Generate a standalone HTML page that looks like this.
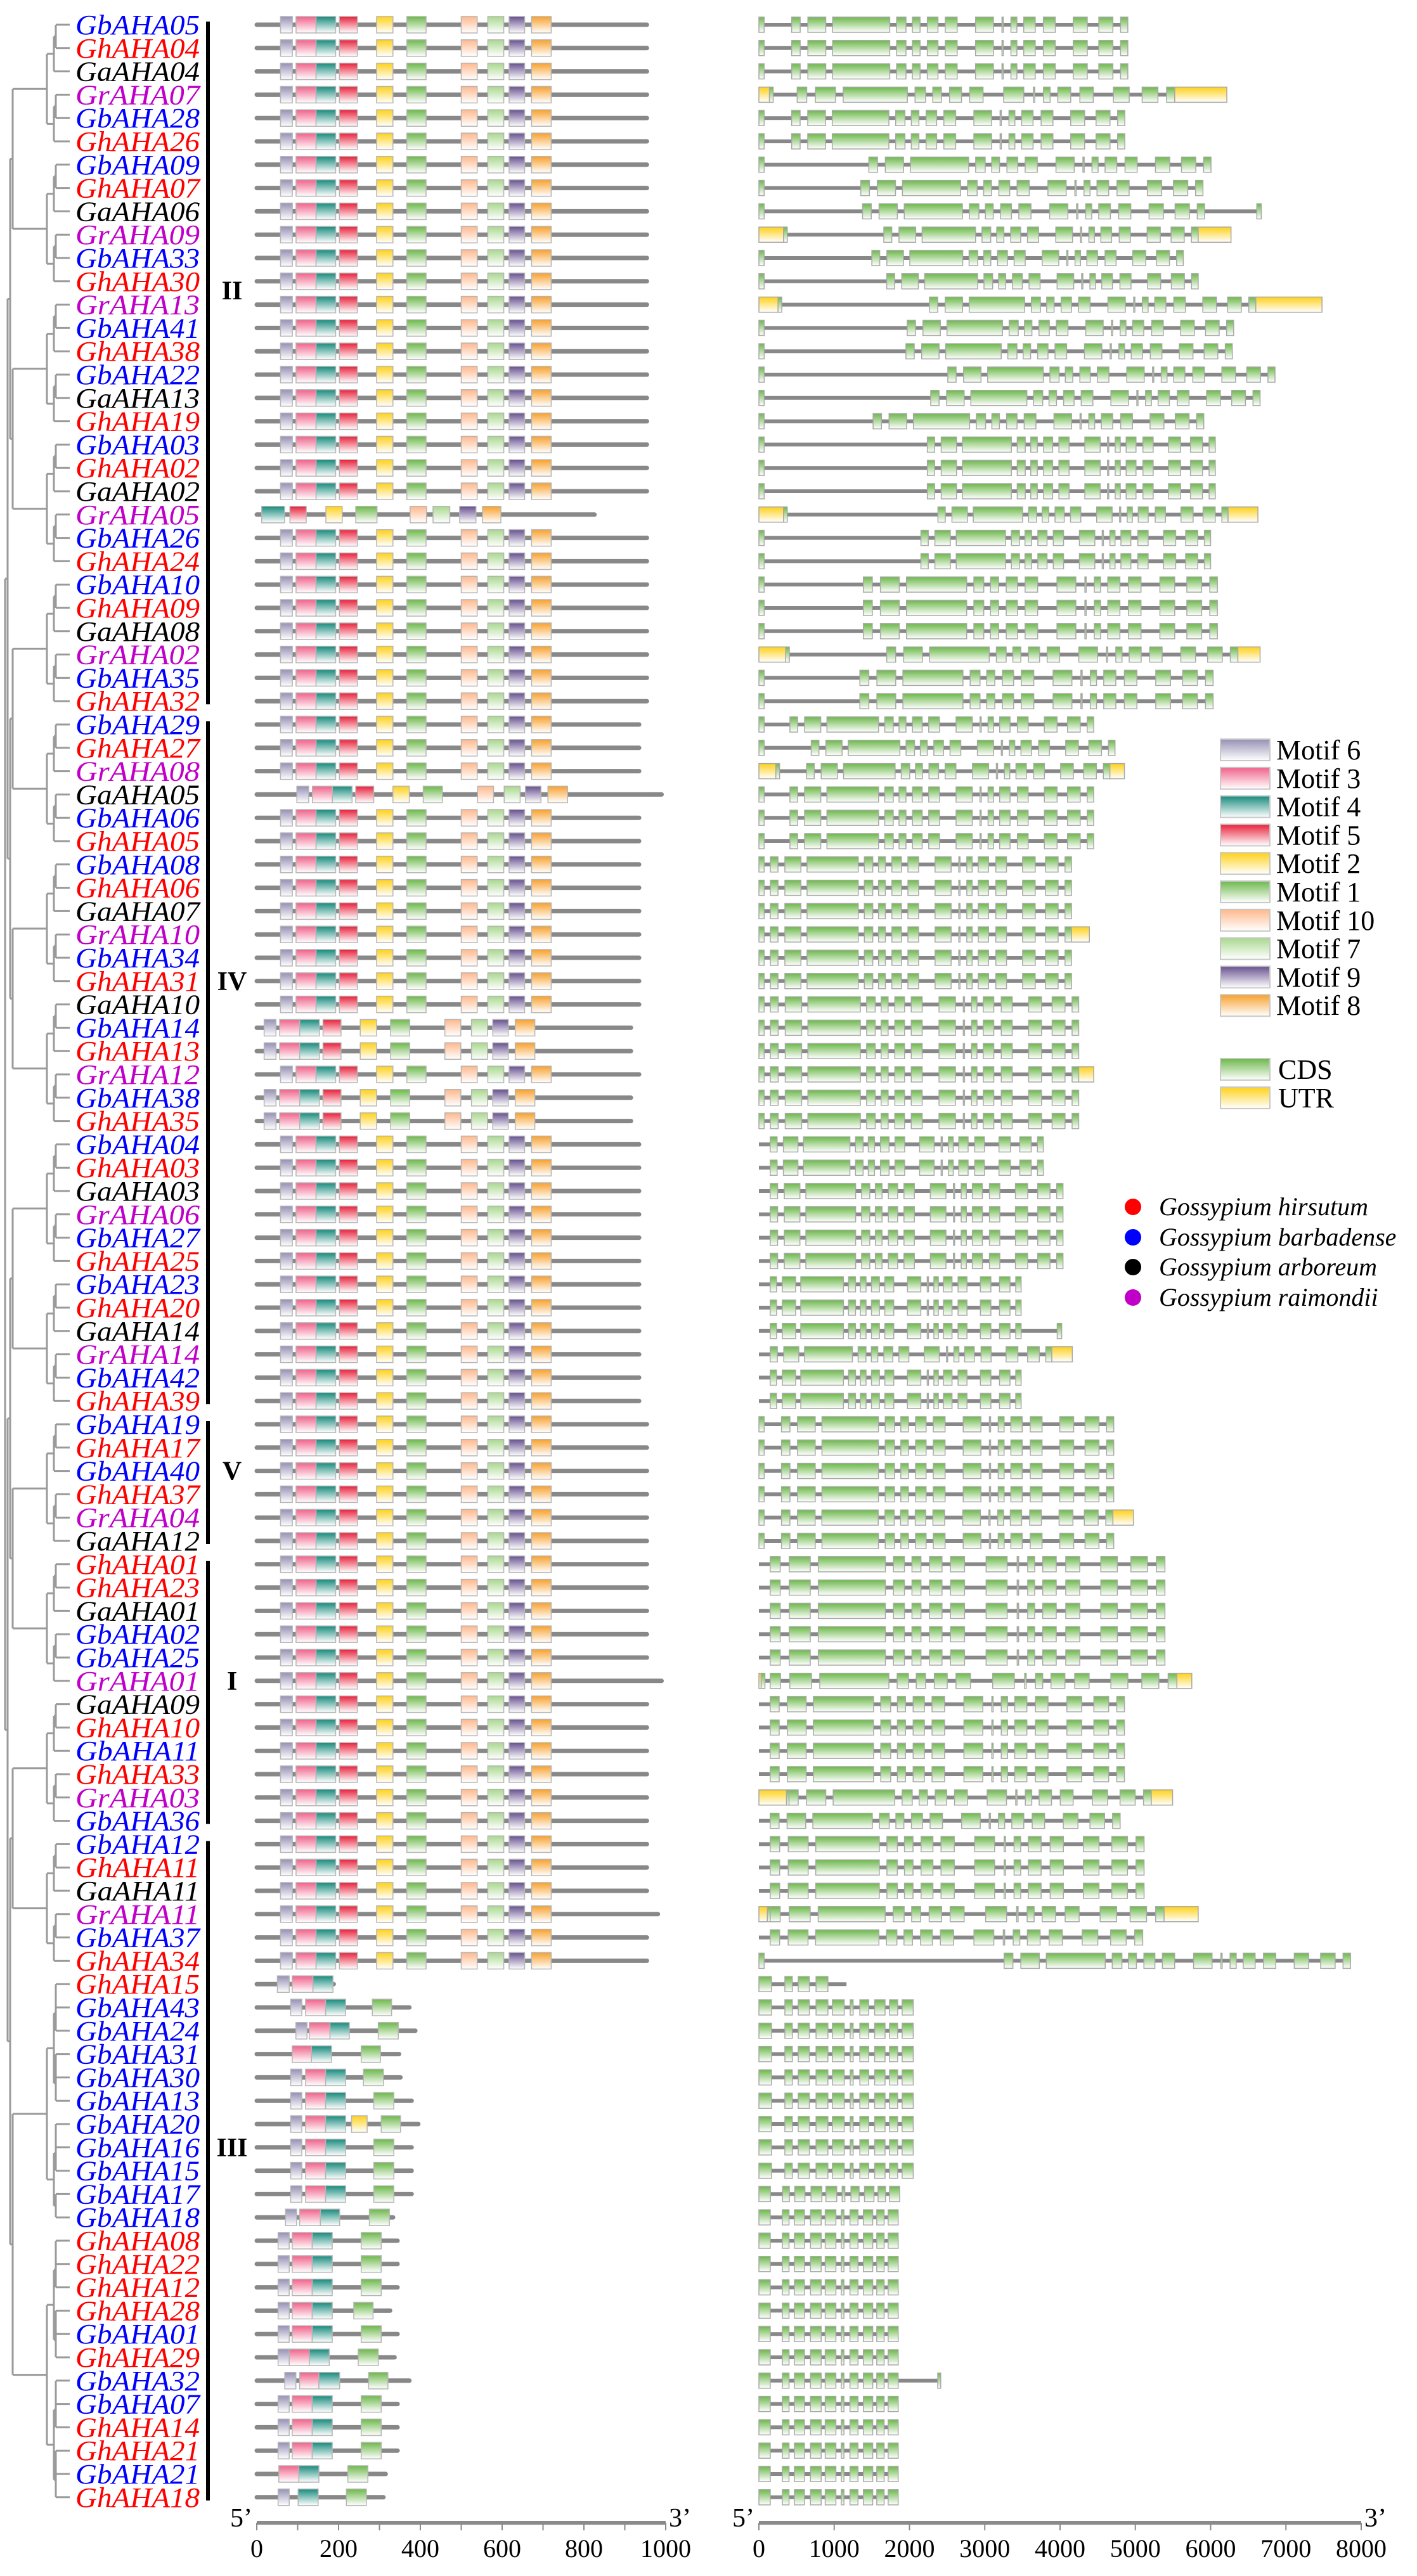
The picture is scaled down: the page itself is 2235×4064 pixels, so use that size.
<!DOCTYPE html>
<html><head><meta charset="utf-8">
<style>
html,body{margin:0;padding:0;background:#fff;}
svg{display:block;}
</style></head>
<body>
<svg id="s" xmlns="http://www.w3.org/2000/svg" width="2235" height="4064" viewBox="0 0 2235 4064">
<defs id="d"></defs>
<g id="g"></g>
</svg>
<script>
(function(){
var NS="http://www.w3.org/2000/svg";
var g=document.getElementById('g'), defs=document.getElementById('d');
function el(t,a,txt){var e=document.createElementNS(NS,t);for(var k in a)e.setAttribute(k,a[k]);if(txt!==undefined)e.textContent=txt;g.appendChild(e);return e;}
function grad(id,c){var lg=document.createElementNS(NS,'linearGradient');lg.setAttribute('id',id);lg.setAttribute('x1','0');lg.setAttribute('y1','0');lg.setAttribute('x2','0');lg.setAttribute('y2','1');
 var s1=document.createElementNS(NS,'stop');s1.setAttribute('offset','0');s1.setAttribute('stop-color',c);
 var s2=document.createElementNS(NS,'stop');s2.setAttribute('offset','1');s2.setAttribute('stop-color','#ffffff');
 lg.appendChild(s1);lg.appendChild(s2);defs.appendChild(lg);}
var MC={6:'#9590b5',3:'#f0628a',4:'#168a7c',5:'#e8203a',2:'#ffd11a',1:'#6cb84a',10:'#ffb88c',7:'#a9d88e',9:'#66508f',8:'#f8a02c'};
for(var k in MC)grad('m'+k,MC[k]);
grad('cds','#6cb84a');grad('utr','#ffd11a');

var names="GbAHA05 GhAHA04 GaAHA04 GrAHA07 GbAHA28 GhAHA26 GbAHA09 GhAHA07 GaAHA06 GrAHA09 GbAHA33 GhAHA30 GrAHA13 GbAHA41 GhAHA38 GbAHA22 GaAHA13 GhAHA19 GbAHA03 GhAHA02 GaAHA02 GrAHA05 GbAHA26 GhAHA24 GbAHA10 GhAHA09 GaAHA08 GrAHA02 GbAHA35 GhAHA32 GbAHA29 GhAHA27 GrAHA08 GaAHA05 GbAHA06 GhAHA05 GbAHA08 GhAHA06 GaAHA07 GrAHA10 GbAHA34 GhAHA31 GaAHA10 GbAHA14 GhAHA13 GrAHA12 GbAHA38 GhAHA35 GbAHA04 GhAHA03 GaAHA03 GrAHA06 GbAHA27 GhAHA25 GbAHA23 GhAHA20 GaAHA14 GrAHA14 GbAHA42 GhAHA39 GbAHA19 GhAHA17 GbAHA40 GhAHA37 GrAHA04 GaAHA12 GhAHA01 GhAHA23 GaAHA01 GbAHA02 GbAHA25 GrAHA01 GaAHA09 GhAHA10 GbAHA11 GhAHA33 GrAHA03 GbAHA36 GbAHA12 GhAHA11 GaAHA11 GrAHA11 GbAHA37 GhAHA34 GhAHA15 GbAHA43 GbAHA24 GbAHA31 GbAHA30 GbAHA13 GbAHA20 GbAHA16 GbAHA15 GbAHA17 GbAHA18 GhAHA08 GhAHA22 GhAHA12 GhAHA28 GbAHA01 GhAHA29 GbAHA32 GbAHA07 GhAHA14 GhAHA21 GbAHA21 GhAHA18".split(' ');
var COL={Gb:'#0000ff',Gh:'#ff0000',Ga:'#000000',Gr:'#c000c8'};
function Y(i){return 39+i*36.8;}

var TC='#9a9a9a';
function build(lo,hi,depth){
 if(lo==hi){return {y:Y(lo),x:110};}
 var x=30+depth*11; if(x>88)x=88;
 var mid=Math.floor((lo+hi)/2);
 var a=build(lo,mid,depth+1), b=build(mid+1,hi,depth+1);
 el('line',{x1:x,y1:a.y,x2:x,y2:b.y,stroke:TC,'stroke-width':3});
 el('line',{x1:x,y1:a.y,x2:a.x,y2:a.y,stroke:TC,'stroke-width':3});
 el('line',{x1:x,y1:b.y,x2:b.x,y2:b.y,stroke:TC,'stroke-width':3});
 return {y:(a.y+b.y)/2,x:x};
}
function buildGroups(groups,depth){
 if(groups.length==1)return build(groups[0][0],groups[0][1],depth);
 var x=8+depth*4;
 var mid=Math.floor(groups.length/2);
 var a=buildGroups(groups.slice(0,mid),depth+1), b=buildGroups(groups.slice(mid),depth+1);
 el('line',{x1:x,y1:a.y,x2:x,y2:b.y,stroke:TC,'stroke-width':3});
 el('line',{x1:x,y1:a.y,x2:a.x,y2:a.y,stroke:TC,'stroke-width':3});
 el('line',{x1:x,y1:b.y,x2:b.x,y2:b.y,stroke:TC,'stroke-width':3});
 return {y:(a.y+b.y)/2,x:x};
}
buildGroups([[0,5],[6,11],[12,17],[18,23],[24,29],[30,35],[36,41],[42,47],[48,53],[54,59],[60,65],[66,71],[72,77],[78,83],[84,94],[95,106]],0);

names.forEach(function(n,i){
 el('text',{x:119,y:Y(i)+15,'font-family':'"Liberation Serif",serif','font-style':'italic','font-size':44,fill:COL[n.substr(0,2)],textLength:196,lengthAdjust:'spacingAndGlyphs'},n);
});
[[0,29],[30,59],[60,65],[66,77],[78,106]].forEach(function(c){
 el('rect',{x:325,y:Y(c[0])-5,width:6,height:Y(c[1])-Y(c[0])+10,fill:'#000'});
});
[['II',11.4],['IV',41],['V',62],['I',71],['III',91]].forEach(function(c){
 el('text',{x:366,y:Y(c[1])+14,'text-anchor':'middle','font-family':'"Liberation Serif",serif','font-weight':'bold','font-size':42},c[0]);
});

function MX(aa){return 405+aa*0.645;}
function P2A(p){return (p*1.1703-5)/0.645;}
var STD=[[6,58,87],[3,96,145],[4,145,193],[5,202,246],[2,293,333],[1,367,414],[10,500,539],[7,565,604],[9,617,655],[8,672,720]];
function shifted(d){return STD.map(function(m){return [m[0],m[1]+d,m[2]+d];});}
function motifRow(i,end,ms){
 var y=Y(i);
 el('line',{x1:405,y1:y,x2:MX(end),y2:y,stroke:'#888','stroke-width':7,'stroke-linecap':'round'});
 ms.forEach(function(m){
  el('rect',{x:MX(m[1]),y:y-13,width:MX(m[2])-MX(m[1]),height:26,fill:'url(#m'+m[0]+')',stroke:'#b5b5b5','stroke-width':1.5});
 });
}
function pm(arr){return arr.map(function(a){return [a[0],P2A(a[1]),P2A(a[2])];});}
var mot={};
for(var i=0;i<84;i++)mot[i]=[954,STD];
mot[21]=[826,[[4,12,68],[5,81,121],[2,169,209],[1,242,294],[10,375,415],[7,431,472],[9,496,536],[8,552,597]]];
mot[33]=[990,shifted(40)];
[43,44,46,47].forEach(function(k){mot[k]=[915,shifted(-40)];});
for(var k=30;k<60;k++){ if(k!=33&&[43,44,46,47].indexOf(k)<0) mot[k]=[935,STD]; }
mot[71]=[990,STD];mot[81]=[981,STD];
mot[84]=[P2A(108),pm([[6,32,48],[3,52,80],[4,80,107]])];
var sIII=function(e,m6,m3,m4,m1,extra){var a=[];if(m6)a.push([6,m6[0],m6[1]]);a.push([3,m3[0],m3[1]]);a.push([4,m4[0],m4[1]]);if(extra)a.push(extra);a.push([1,m1[0],m1[1]]);return [P2A(e),pm(a)];};
mot[85]=sIII(210,[50,65],[70,97],[97,124],[160,186]);
mot[86]=sIII(218,[57,72],[75,103],[103,129],[168,195]);
mot[87]=sIII(196,null,[52,78],[78,105],[145,171]);
mot[88]=sIII(198,[50,65],[70,97],[97,124],[148,175]);
mot[89]=sIII(213,[50,65],[70,97],[97,124],[162,189]);
mot[90]=sIII(222,[50,65],[70,97],[97,124],[172,198],[2,132,153]);
mot[91]=sIII(213,[50,65],[70,97],[97,124],[162,189]);
mot[92]=sIII(213,[50,65],[70,97],[97,124],[162,189]);
mot[93]=sIII(213,[50,65],[70,97],[97,124],[162,189]);
mot[94]=sIII(188,[43,58],[62,90],[90,116],[156,183]);
[95,96,97,99,102,103,104].forEach(function(k){mot[k]=sIII(194,[33,48],[52,79],[79,106],[145,172]);});
mot[98]=sIII(184,[33,48],[52,79],[79,106],[135,161]);
mot[100]=sIII(190,[33,48],[48,75],[75,102],[141,168]);
mot[101]=sIII(210,[42,57],[62,88],[88,116],[155,181]);
mot[105]=[P2A(178),pm([[3,34,61],[4,61,88],[1,127,154]])];
mot[106]=[P2A(175),pm([[6,33,48],[4,60,87],[1,125,152]])];
for(var i=0;i<107;i++)motifRow(i,mot[i][0],mot[i][1]);

var AY=3980;
el('line',{x1:405,y1:AY,x2:1050,y2:AY,stroke:'#8a8a8a','stroke-width':6});
for(var t=0;t<=10;t++){var x=MX(t*100);el('line',{x1:x,y1:AY,x2:x,y2:AY+12,stroke:'#8a8a8a','stroke-width':2});}
for(var t=0;t<=5;t++){el('text',{x:MX(t*200),y:4034,'text-anchor':'middle','font-family':'"Liberation Serif",serif','font-size':40},String(t*200));}
el('text',{x:398,y:3986,'text-anchor':'end','font-family':'"Liberation Serif",serif','font-size':42},'5\u2019');
el('text',{x:1055,y:3986,'font-family':'"Liberation Serif",serif','font-size':42},'3\u2019');

function GX(bp){return 1197+bp*0.11875;}
var TPL=[[102,122],[140,182],[198,332],[348,370],[385,403],[420,445],[462,490],[533,575],[595,598],[616,630],[646,673],[692,720],[762,795],[822,855],[873,890]];
var SHORT=[[680,697],[715,725],[733,748],[757,773],[779,795],[803,807],[816,828],[836,850],[856,867],[873,888]];
function box(b1,b2,y,f){el('rect',{x:GX(b1),y:y-12,width:Math.max(2,GX(b2)-GX(b1)),height:24,fill:'url(#'+f+')',stroke:'#a8a8a8','stroke-width':1.5});}
function gene(i,end,dense,u5,u3,tail){
 var y=Y(i);
 el('line',{x1:GX(0),y1:y,x2:GX(end),y2:y,stroke:'#888','stroke-width':6});
 var mainEnd=u3?u3:(tail?tail:end);
 if(mainEnd<2500){
  var tp=SHORT, span=888-680;
  if(mainEnd<1500){tp=SHORT.slice(0,4);span=798-680;}
  tp.forEach(function(t){box((t[0]-680)/span*mainEnd,(t[1]-680)/span*mainEnd,y,'cds');});
  if(tail)box(end-40,end,y,'cds');
  return;
 }
 if(u5){box(0,u5,y,'utr');box(u5,u5+50,y,'cds');}
 else if(dense>150) box(0,70,y,'cds');
 var s=dense;
 TPL.forEach(function(t){var a=s+(t[0]-102)/788*(mainEnd-s),b=s+(t[1]-102)/788*(mainEnd-s);box(a,b,y,'cds');});
 if(u3)box(u3,end,y,'utr');
 if(tail)box(end-60,end,y,'cds');
}
function P(p){return (p-25.3)*5.667;}
var G=[];
G[0]=[4900,435];G[1]=[4900,435];G[2]=[4900,435];G[3]=[6215,P(115),140,5523];G[4]=[4860,435];G[5]=[4860,435];
G[6]=[6005,1460];G[7]=[5898,1353];G[8]=[6673,1377,0,0,5920];G[9]=[6271,1659,327,5835];
G[10]=[5637,1500];G[11]=[5835,1698];G[12]=[7479,2265,254,6600];G[13]=[6306,1970];G[14]=[6288,1953];
G[15]=[6855,2509];G[16]=[6657,2282];G[17]=[5909,1517];G[18]=[6062,2237];G[19]=[6062,2237];G[20]=[6062,2237];
G[21]=[6628,2378,327,6232];G[22]=[6000,2152];G[23]=[6000,2152];G[24]=[6090,1387];G[25]=[6090,1387];G[26]=[6090,1387];
G[27]=[6657,1698,355,6362];G[28]=[6033,1341];G[29]=[6033,1341];
G[30]=[4447,412];G[31]=[4730,695];G[32]=[4855,633,225,4662];G[33]=[4447,412];G[34]=[4447,412];G[35]=[4447,412];
[36,37,38,40,41].forEach(function(k){G[k]=[4152,152];});G[39]=[4390,152,0,4152];
[42,43,44,46,47].forEach(function(k){G[k]=[4248,152];});G[45]=[4447,152,0,4248];
G[48]=[3778,150];G[49]=[3778,150];[50,51,52,53].forEach(function(k){G[k]=[4039,150];});
G[54]=[3483,150];G[55]=[3483,150];G[56]=[4022,150,0,0,3483];G[57]=[4163,150,0,3891];G[58]=[3483,150];G[59]=[3483,150];
[60,61,62,63,65].forEach(function(k){G[k]=[4713,300];});G[64]=[4974,300,0,4702];
[66,67,68,69,70].forEach(function(k){G[k]=[5393,150];});G[71]=[5750,150,30,5552];
[72,73,74,75].forEach(function(k){G[k]=[4855,150];});G[76]=[5495,400,367,5212];G[77]=[4798,150];
[78,79,80].forEach(function(k){G[k]=[5116,150];});G[81]=[5835,150,112,5382];G[82]=[5098,150];
G[83]=[7858,3257];G[84]=[1163,0];
for(var k=85;k<=92;k++)G[k]=[2050,0];G[93]=[1870,0];
for(var k=94;k<=106;k++)G[k]=[1850,0];G[101]=[2415,0,0,0,1850];
for(var i=0;i<107;i++){var a=G[i];gene(i,a[0],a[1],a[2]||0,a[3]||0,a[4]||0);}

el('line',{x1:GX(0),y1:AY,x2:GX(8000),y2:AY,stroke:'#8a8a8a','stroke-width':6});
for(var t=0;t<=8;t++){var x=GX(t*1000);el('line',{x1:x,y1:AY,x2:x,y2:AY+12,stroke:'#8a8a8a','stroke-width':2});
 el('text',{x:x,y:4034,'text-anchor':'middle','font-family':'"Liberation Serif",serif','font-size':40},String(t*1000));}
el('text',{x:1190,y:3986,'text-anchor':'end','font-family':'"Liberation Serif",serif','font-size':42},'5\u2019');
el('text',{x:2152,y:3986,'font-family':'"Liberation Serif",serif','font-size':42},'3\u2019');

var LM=[6,3,4,5,2,1,10,7,9,8];
LM.forEach(function(m,k){var cy=1183+k*44.8;
 el('rect',{x:1925,y:cy-17,width:78,height:34,fill:'url(#m'+m+')',stroke:'#c8c8c8','stroke-width':2});
 el('text',{x:2013,y:cy+15,'font-family':'"Liberation Serif",serif','font-size':44},'Motif '+m);
});
[['cds','CDS',1687],['utr','UTR',1732]].forEach(function(c){
 el('rect',{x:1925,y:c[2]-17,width:78,height:34,fill:'url(#'+c[0]+')',stroke:'#c8c8c8','stroke-width':2});
 el('text',{x:2016,y:c[2]+15,'font-family':'"Liberation Serif",serif','font-size':44},c[1]);
});
[['#ff0000','Gossypium hirsutum',1904],['#0000ff','Gossypium barbadense',1952],['#000000','Gossypium arboreum',1999],['#c000c8','Gossypium raimondii',2047]].forEach(function(c){
 el('circle',{cx:1787,cy:c[2],r:13,fill:c[0]});
 el('text',{x:1828,y:c[2]+13,'font-family':'"Liberation Serif",serif','font-style':'italic','font-size':40},c[1]);
});
})();
</script>
</body></html>
